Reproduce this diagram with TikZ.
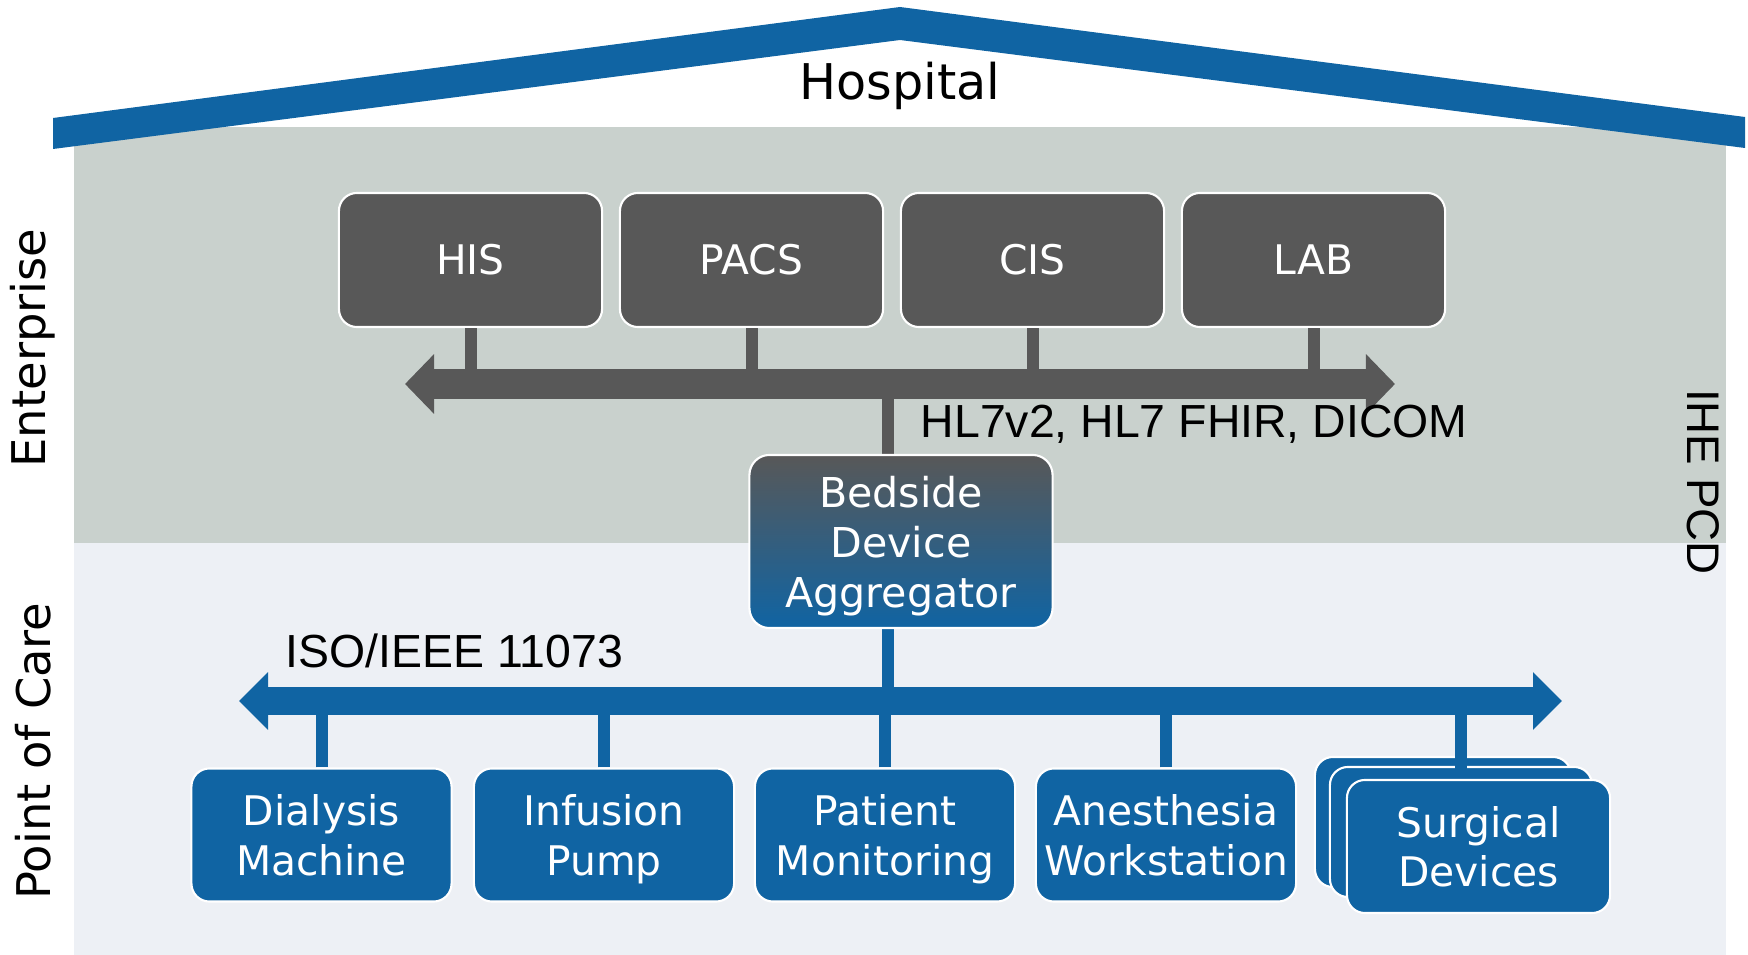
\documentclass[tikz,border=0pt]{standalone}
\usepackage{fontspec}
\usepackage{tikz}
\usetikzlibrary{arrows.meta}
\setmainfont{DejaVu Sans}
\newfontfamily\arialfont{Liberation Sans}

\definecolor{pcdblue}{RGB}{16,100,163}
\definecolor{entgray}{RGB}{88,88,88}
\definecolor{entbg}{RGB}{201,209,205}
\definecolor{pocbg}{RGB}{237,240,245}

% last line of a box label, without its descender
\newcommand{\lastln}[1]{\raisebox{0pt}[\height][0pt]{#1}}

\tikzset{
	sysbox/.style={draw=white, line width=0.6pt, fill=entgray, rounded corners=0.18cm,
		minimum width=2.63cm, minimum height=1.34cm, inner sep=0pt, text=white,
		font=\fontsize{11.6}{14.2}\selectfont},
	devbox/.style={draw=white, line width=0.6pt, fill=pcdblue, rounded corners=0.18cm,
		minimum width=2.60cm, minimum height=1.33cm, inner sep=0pt, text=white, align=center,
		font=\fontsize{11.6}{14.2}\selectfont},
	entlink/.style={draw=entgray, line width=0.12cm},
	poclink/.style={draw=pcdblue, line width=0.12cm},
	entbus/.style={draw=entgray, line width=0.3cm,
		arrows={Triangle[length=2.9mm,width=5.8mm]-Triangle[length=2.9mm,width=5.8mm]}},
	pocbus/.style={draw=pcdblue, line width=0.28cm,
		arrows={Triangle[length=2.9mm,width=5.6mm]-Triangle[length=2.9mm,width=5.6mm]}},
	sidelabel/.style={inner sep=0pt, font=\fontsize{13.2}{16}\selectfont}
}

\begin{document}
\begin{tikzpicture}[x=0.01cm,y=-0.01cm]
	\useasboundingbox (0,0) rectangle (1748,955);

	%background layers
	\fill[entbg] (74,127) rectangle (1726,543);
	\fill[pocbg] (74,543) rectangle (1726,955);

	%roof
	\fill[pcdblue] (53,118)--(900,7)--(1745,117)--(1745,148)--(900,40)--(53,149)--cycle;
	\node[anchor=base, inner sep=0pt, font=\fontsize{14}{17}\selectfont] (hospital) at (900,100) {Hospital};

	%side labels
	\node[sidelabel, rotate=90] (enterprise) at (33,348) {Enterprise};
	\node[sidelabel, rotate=90] (pointofcare) at (33,751) {Point of Care};
	\node[sidelabel, rotate=-90, font=\arialfont\fontsize{13}{16}\selectfont] (ihepcd) at (1703,482) {IHE PCD};

	%enterprise systems
	\node[sysbox] (his)  at (470.5,260)  {HIS};
	\node[sysbox] (pacs) at (751.5,260)  {PACS};
	\node[sysbox] (cis)  at (1032.5,260) {CIS};
	\node[sysbox] (lab)  at (1313.5,260) {LAB};

	\coordinate (entL) at (405,384);
	\coordinate (entR) at (1395,384);
	\coordinate (entagg) at (888,384);
	\draw[entlink] (his.south)  -- (his.south |- entL);
	\draw[entlink] (pacs.south) -- (pacs.south |- entL);
	\draw[entlink] (cis.south)  -- (cis.south |- entL);
	\draw[entlink] (lab.south)  -- (lab.south |- entL);
	\draw[entbus] (entL) -- (entR);
	\node[anchor=base west, inner sep=0pt, font=\arialfont\fontsize{13.2}{16}\selectfont] (hl7) at (920,438) {HL7v2, HL7 FHIR, DICOM};

	%bedside aggregator
	\coordinate (pocL) at (239,701);
	\coordinate (pocR) at (1562,701);
	\coordinate (pocagg) at (888,701);
	\draw[entlink] (entagg) -- (entagg |- 0,470);
	\draw[poclink] (pocagg) -- (pocagg |- 0,610);
	\node[draw=white, line width=0.6pt, top color=entgray, bottom color=pcdblue, rounded corners=0.2cm,
		minimum width=3.03cm, minimum height=1.73cm, inner sep=0pt, text=white, align=center,
		font=\fontsize{11.7}{14.2}\selectfont] (agg) at (901,541.5) {Bedside\\Device\\\lastln{Aggregator}};

	%point of care devices
	\node[devbox] (dial) at (321.5,835) {Dialysis\\\lastln{Machine}};
	\node[devbox] (infu) at (604,835)   {Infusion\\\lastln{Pump}};
	\node[devbox] (mon)  at (885,835)   {Patient\\\lastln{Monitoring}};
	\node[devbox] (anes) at (1166,835)  {Anesthesia\\\lastln{Workstation}};
	\node[devbox, minimum width=2.56cm, minimum height=1.30cm] (surgback) at (1443,822) {};
	\node[devbox, minimum width=2.62cm, minimum height=1.30cm] (surgmid)  at (1461,832) {};

	\draw[poclink] (dial.north) -- (dial.north |- pocL);
	\draw[poclink] (infu.north) -- (infu.north |- pocL);
	\draw[poclink] (mon.north)  -- (mon.north |- pocL);
	\draw[poclink] (anes.north) -- (anes.north |- pocL);
	\draw[poclink] (surgmid.north |- pocL) -- (surgmid.north |- 0,780);
	\node[devbox, minimum width=2.63cm, minimum height=1.33cm] (surg) at (1478.5,846.5) {Surgical\\\lastln{Devices}};

	\draw[pocbus] (pocL) -- (pocR);
	\node[anchor=base west, inner sep=0pt, font=\arialfont\fontsize{13.2}{16}\selectfont] (iso) at (285,667) {ISO/IEEE 11073};
\end{tikzpicture}
\end{document}
